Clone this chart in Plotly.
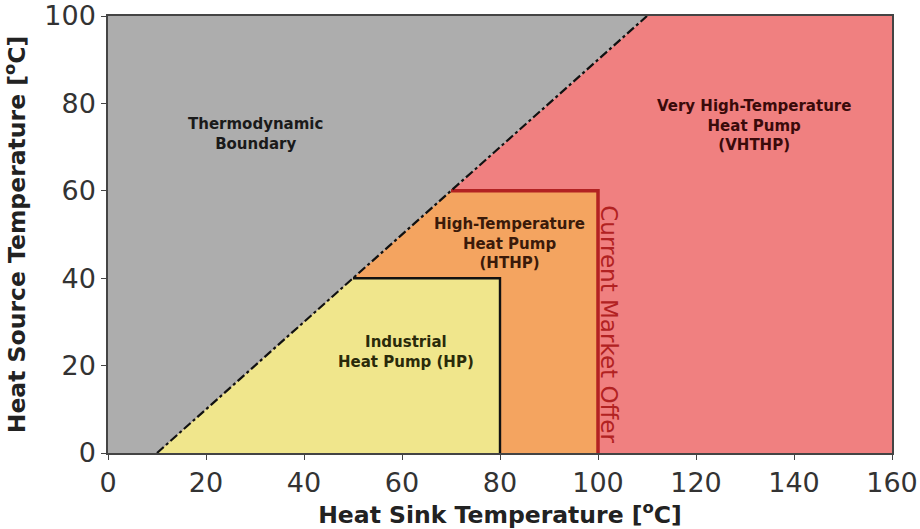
import plotly.graph_objects as go

# Data (temperatures in °C)
x_range = [0, 160]
y_range = [0, 100]
boundary_x = [10, 110]          # thermodynamic boundary line: source = sink - 10
boundary_y = [0, 100]
hp_sink_max, hp_source_max = 80, 40
hthp_sink_max, hthp_source_max = 100, 60
x_ticks = [0, 20, 40, 60, 80, 100, 120, 140, 160]
y_ticks = [0, 20, 40, 60, 80, 100]

labels = [
    ("Thermodynamic<br>Boundary", 30, 73, "#1a1a1a"),
    ("Very High-Temperature<br>Heat Pump<br>(VHTHP)", 131.8, 75, "#3a0a0a"),
    ("High-Temperature<br>Heat Pump<br>(HTHP)", 82, 48, "#3a1a0a"),
    ("Industrial<br>Heat Pump (HP)", 60.8, 23, "#2a2a0a"),
]

def diag(y):
    # sink temperature on the boundary for a given source temperature
    return boundary_x[0] + (y - boundary_y[0]) * (boundary_x[1] - boundary_x[0]) / (boundary_y[1] - boundary_y[0])

fig = go.Figure()

# Very high temp region (everything below the boundary)
fig.add_trace(go.Scatter(
    x=[boundary_x[0], boundary_x[1], x_range[1], x_range[1], boundary_x[0]],
    y=[boundary_y[0], boundary_y[1], y_range[1], y_range[0], boundary_y[0]],
    fill="toself", fillcolor="#F08080", mode="lines", line=dict(width=0),
    hoverinfo="skip", showlegend=False))

# HTHP region
fig.add_trace(go.Scatter(
    x=[boundary_x[0], diag(hthp_source_max), hthp_sink_max, hthp_sink_max, boundary_x[0]],
    y=[0, hthp_source_max, hthp_source_max, 0, 0],
    fill="toself", fillcolor="#F4A460", mode="lines", line=dict(width=0),
    hoverinfo="skip", showlegend=False))

# HP region
fig.add_trace(go.Scatter(
    x=[boundary_x[0], diag(hp_source_max), hp_sink_max, hp_sink_max, boundary_x[0]],
    y=[0, hp_source_max, hp_source_max, 0, 0],
    fill="toself", fillcolor="#F0E68C", mode="lines", line=dict(width=0),
    hoverinfo="skip", showlegend=False))

# Thermodynamic boundary (grey, above line)
fig.add_trace(go.Scatter(
    x=[x_range[0], boundary_x[0], boundary_x[1], x_range[0], x_range[0]],
    y=[y_range[0], boundary_y[0], boundary_y[1], y_range[1], y_range[0]],
    fill="toself", fillcolor="#ADADAD", mode="lines", line=dict(width=0),
    hoverinfo="skip", showlegend=False))

# HTHP outline
fig.add_trace(go.Scatter(
    x=[diag(hthp_source_max), hthp_sink_max, hthp_sink_max],
    y=[hthp_source_max, hthp_source_max, 0],
    mode="lines", line=dict(color="#B22222", width=3.5),
    hoverinfo="skip", showlegend=False))

# HP outline
fig.add_trace(go.Scatter(
    x=[diag(hp_source_max), hp_sink_max, hp_sink_max],
    y=[hp_source_max, hp_source_max, 0],
    mode="lines", line=dict(color="#111111", width=2.4),
    hoverinfo="skip", showlegend=False))

# Boundary line
fig.add_trace(go.Scatter(
    x=boundary_x, y=boundary_y, mode="lines",
    line=dict(color="#111111", width=2.2, dash="dashdot"),
    hoverinfo="skip", showlegend=False))

for text, x, y, c in labels:
    fig.add_annotation(x=x, y=y, text=f"<b>{text}</b>", showarrow=False,
                       font=dict(family="DejaVu Sans", size=15, color=c))

fig.add_annotation(x=hthp_sink_max + 2.2, y=29.5, text="Current Market Offer", textangle=90,
                   showarrow=False, font=dict(family="DejaVu Sans", size=23, color="#B22222"))

axis_common = dict(
    showgrid=False, zeroline=False, showline=True, linecolor="#444444", linewidth=1.5,
    mirror=True, ticks="outside", ticklen=5, tickcolor="#444444", automargin=False,
    tickfont=dict(family="DejaVu Sans", size=27, color="#333333"),
)

fig.update_xaxes(range=x_range, tickvals=x_ticks, **axis_common,
                 title=dict(text="<b>Heat Sink Temperature [<sup>o</sup>C]</b>",
                            font=dict(family="DejaVu Sans", size=23.5, color="#222222"), standoff=2))
fig.update_yaxes(range=y_range, tickvals=y_ticks, **axis_common,
                 title=dict(text="<b>Heat Source Temperature [<sup>o</sup>C]</b>",
                            font=dict(family="DejaVu Sans", size=23.5, color="#222222"), standoff=12))

fig.update_layout(
    width=920, height=529,
    margin=dict(l=108, r=28, t=16, b=76),
    paper_bgcolor="white", plot_bgcolor="white",
)

fig.write_html("out.html")
